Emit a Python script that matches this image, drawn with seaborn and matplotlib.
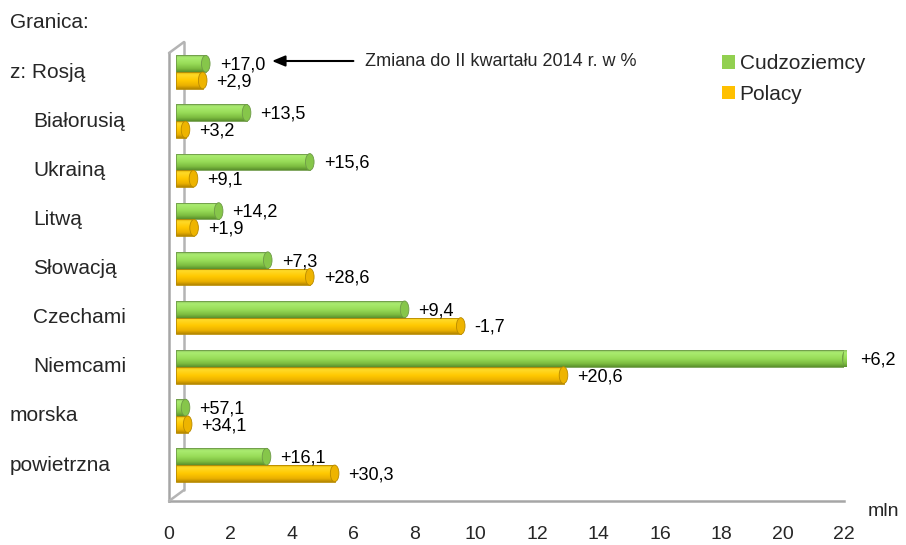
import numpy as np
import pandas as pd
import seaborn as sns
import matplotlib
matplotlib.use("Agg")
from matplotlib import pyplot as plt
from matplotlib import transforms
from matplotlib.patches import Patch, Ellipse
from matplotlib.lines import Line2D
from matplotlib.colors import LinearSegmentedColormap

# dane (mln osób), II kwartał
granice = ["z: Rosją", "Białorusią", "Ukrainą", "Litwą", "Słowacją",
           "Czechami", "Niemcami", "morska", "powietrzna"]
wciecie = [False, True, True, True, True, True, True, False, False]
cudzoziemcy = [0.97, 2.30, 4.36, 1.39, 2.99, 7.45, 21.86, 0.31, 2.95]
polacy = [0.87, 0.31, 0.57, 0.59, 4.36, 9.28, 12.63, 0.38, 5.17]
zmiana_cudz = ["+17,0", "+13,5", "+15,6", "+14,2", "+7,3", "+9,4", "+6,2", "+57,1", "+16,1"]
zmiana_pol = ["+2,9", "+3,2", "+9,1", "+1,9", "+28,6", "-1,7", "+20,6", "+34,1", "+30,3"]
grupy = ["Cudzoziemcy", "Polacy"]
x_ticks = list(range(0, 23, 2))

df = pd.DataFrame({
    "granica": granice * 2,
    "mln": cudzoziemcy + polacy,
    "grupa": [grupy[0]] * len(granice) + [grupy[1]] * len(granice),
})

sns.set_style("white")
plt.rcParams['font.family'] = ['Liberation Sans', 'DejaVu Sans']

W, H = 906, 545
fig = plt.figure(figsize=(W / 100, H / 100), dpi=100)
ax = fig.add_axes([169 / W, 1 - 501 / H, 675 / W, 448 / H])
ax.set_facecolor("none")

kolory = {"Cudzoziemcy": "#92d050", "Polacy": "#ffc000"}
sns.barplot(data=df, y="granica", x="mln", hue="grupa", hue_order=grupy,
            orient="h", palette=kolory, saturation=1, width=0.68,
            dodge=True, legend=False, ax=ax)

xlim = (0, 22)
ylim = (8.62, -0.5)

# efekt walca (cieniowanie) i przesuniecie w glab
shift = ax.transData + transforms.ScaledTranslation(7 / 100, 5.5 / 100, fig.dpi_scale_trans)
cm_g = LinearSegmentedColormap.from_list("g", [(0, "#8cc060"), (0.15, "#aaec70"),
                                               (0.5, "#98dc58"), (0.8, "#7cbc40"),
                                               (1, "#5a8f2c")])
cm_p = LinearSegmentedColormap.from_list("p", [(0, "#e0b000"), (0.15, "#ffda28"),
                                               (0.5, "#ffc800"), (0.8, "#eab000"),
                                               (1, "#b48600")])
krawedz = ["#6e9a48", "#b88a00"]
zakonczenie = ["#86c64a", "#eeb400"]
grad = np.linspace(0, 1, 64).reshape(-1, 1)

for cont, cm, ec, cap in zip(ax.containers, [cm_g, cm_p], krawedz, zakonczenie):
    for bar in cont:
        x0, y0, w, h = bar.get_x(), bar.get_y(), bar.get_width(), bar.get_height()
        bar.set_transform(shift)
        bar.set_facecolor("none")
        bar.set_edgecolor(ec)
        bar.set_linewidth(0.6)
        bar.set_zorder(4)
        im = ax.imshow(grad, cmap=cm, aspect="auto", origin="upper",
                       extent=(x0, x0 + w, y0 + h, y0), zorder=3, interpolation="bilinear")
        im.set_transform(shift)
        im.set_clip_path(bar)
        ax.add_patch(Ellipse((x0 + w, y0 + h / 2), width=0.28, height=h,
                             facecolor=cap, edgecolor=ec, lw=0.6, zorder=5, transform=shift))

# etykiety zmian procentowych
for cont, teksty in zip(ax.containers, [zmiana_cudz, zmiana_pol]):
    for bar, t in zip(cont, teksty):
        ax.annotate(t, xy=(bar.get_x() + bar.get_width(), bar.get_y() + bar.get_height() / 2),
                    xycoords=shift, xytext=(10, -1), textcoords="offset points",
                    ha="left", va="center", fontsize=13, color="black", zorder=6)

ax.set_xlim(*xlim)
ax.set_ylim(*ylim)
ax.set_xticks(x_ticks)
ax.set_xticklabels([str(v) for v in x_ticks], fontsize=14)
ax.set_yticks(np.arange(0.5, len(granice) - 0.5, 1))
ax.set_yticklabels([])
ax.set_xlabel("")
ax.set_ylabel("")
ax.tick_params(axis="x", direction="in", length=4, width=1.5, color="#a6a6a6", pad=18)
ax.tick_params(axis="y", direction="out", length=6, width=1.5, color="#a6a6a6")
for s in ["top", "right"]:
    ax.spines[s].set_visible(False)
for s in ["left", "bottom"]:
    ax.spines[s].set_color("#a6a6a6")
    ax.spines[s].set_linewidth(1.8)

# sciana tylna
pos = ax.get_position()
dx, dy = 15 / W, 11 / H
for xs, ys in [([pos.x0, pos.x0 + dx], [pos.y1, pos.y1 + dy]),
               ([pos.x0, pos.x0 + dx], [pos.y0, pos.y0 + dy])]:
    fig.add_artist(Line2D(xs, ys, transform=fig.transFigure, color="#b4b4b4", lw=1.8))
tr_wall = transforms.blended_transform_factory(ax.transData, ax.transAxes) + \
    transforms.ScaledTranslation(15 / 100, 11 / 100, fig.dpi_scale_trans)
ax.plot([0, 0], [0, 1], transform=tr_wall, color="#b4b4b4", lw=1.8, zorder=1, clip_on=False)

# nazwy granic
tr_lab = transforms.blended_transform_factory(fig.transFigure, ax.transData) + \
    transforms.ScaledTranslation(0, 5.5 / 100, fig.dpi_scale_trans)
for i, (g, wc) in enumerate(zip(granice, wciecie)):
    ax.text(33 / W if wc else 10 / W, i, g, transform=tr_lab, ha="left", va="center",
            fontsize=15, clip_on=False)

fig.text(10 / W, 1 - 22 / H, "Granica:", ha="left", va="center", fontsize=15)
fig.text(868 / W, 1 - 512 / H, "mln", ha="left", va="center", fontsize=14)

ax.annotate("Zmiana do II kwartału 2014 r. w %",
            xy=(272 / W, 1 - 61 / H), xycoords="figure fraction",
            xytext=(365 / W, 1 - 61 / H), textcoords="figure fraction",
            ha="left", va="center", fontsize=13,
            arrowprops=dict(arrowstyle="-|>,head_length=0.6,head_width=0.25",
                            color="black", lw=1.5, shrinkA=6, shrinkB=0))

uchwyty = [Patch(facecolor=kolory[g], edgecolor="none", label=g) for g in grupy]
fig.legend(handles=uchwyty, loc="center left", bbox_to_anchor=(722 / W, 1 - 79 / H),
           frameon=False, fontsize=15, handlelength=0.6, handleheight=0.6,
           handletextpad=0.25, labelspacing=0.55, borderpad=0, borderaxespad=0)

fig.savefig("out.png", dpi=100)
